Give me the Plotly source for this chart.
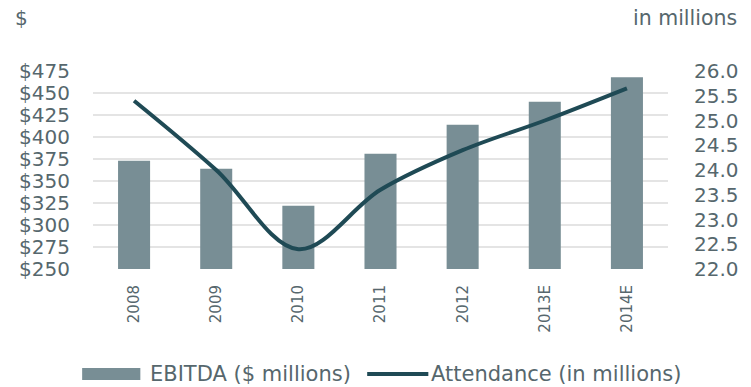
import plotly.graph_objects as go

# Chart data
years = ["2008", "2009", "2010", "2011", "2012", "2013E", "2014E"]
ebitda = [373, 364, 322, 381, 414, 440, 468]          # $ millions
attendance = [25.4, 24.0, 22.4, 23.6, 24.4, 25.0, 25.65]  # millions

ebitda_ticks = [250, 275, 300, 325, 350, 375, 400, 425, 450, 475]
ebitda_labels = ["$" + str(v) for v in ebitda_ticks]
attendance_ticks = [22.0, 22.5, 23.0, 23.5, 24.0, 24.5, 25.0, 25.5, 26.0]
attendance_labels = [f"{v:.1f}" for v in attendance_ticks]

bar_name = "EBITDA ($ millions)"
line_name = "Attendance (in millions)"

# Style
W, H = 751, 387
ML, MR, MT, MB = 93, 75, 71, 118
FONT = "DejaVu Sans"
TEXT = "#56676d"
BAR = "#788e95"
LINE = "#1f4a55"
GRID = "#e4e4e4"

PW = W - ML - MR
PH = H - MT - MB


def px(x):
    return (x - ML) / PW


def py(y):
    return (H - MB - y) / PH


fig = go.Figure()
fig.add_trace(go.Bar(
    x=years, y=ebitda, name=bar_name, marker_color=BAR,
    marker_line_width=0, showlegend=False,
))
fig.add_trace(go.Scatter(
    x=years, y=attendance, name=line_name, yaxis="y2", mode="lines",
    line=dict(color=LINE, width=4, shape="spline", smoothing=1.0),
    showlegend=False,
))

fig.update_layout(
    width=W, height=H, autosize=False,
    margin=dict(l=ML, r=MR, t=MT, b=MB),
    paper_bgcolor="white", plot_bgcolor="white",
    bargap=0.61,
    font=dict(family=FONT, color=TEXT, size=20),
    xaxis=dict(
        type="category", tickangle=-90, showgrid=False, showline=False,
        zeroline=False, ticks="", ticklabelstandoff=12,
        tickfont=dict(size=15, color=TEXT, family=FONT),
    ),
    yaxis=dict(
        range=[ebitda_ticks[0], ebitda_ticks[-1]], tickvals=ebitda_ticks,
        ticktext=ebitda_labels, showgrid=True, gridcolor=GRID, gridwidth=1.5,
        zeroline=False, showline=False, ticks="", ticklabelstandoff=22,
        tickfont=dict(size=20, color=TEXT, family=FONT),
    ),
    yaxis2=dict(
        overlaying="y", side="right",
        range=[attendance_ticks[0], attendance_ticks[-1]],
        tickvals=attendance_ticks, ticktext=attendance_labels, showgrid=False,
        zeroline=False, showline=False, ticks="", ticklabelstandoff=25,
        tickfont=dict(size=20, color=TEXT, family=FONT),
    ),
)

# Axis unit captions
fig.add_annotation(text="$", xref="paper", yref="paper", x=px(12), y=py(18),
                   xanchor="left", yanchor="middle", showarrow=False,
                   font=dict(size=20, color=TEXT, family=FONT))
fig.add_annotation(text="in millions", xref="paper", yref="paper", x=px(748),
                   y=py(18), xanchor="right", yanchor="middle", showarrow=False,
                   font=dict(size=20.5, color=TEXT, family=FONT))

# Legend row
fig.add_shape(type="rect", xref="paper", yref="paper",
              x0=px(82), x1=px(141), y0=py(380), y1=py(368),
              fillcolor=BAR, line_width=0)
fig.add_annotation(text=bar_name, xref="paper", yref="paper", x=px(149),
                   y=py(374), xanchor="left", yanchor="middle", showarrow=False,
                   font=dict(size=21, color=TEXT, family=FONT))
fig.add_shape(type="line", xref="paper", yref="paper",
              x0=px(371), x1=px(433), y0=py(374), y1=py(374),
              line=dict(color=LINE, width=4))
fig.add_annotation(text=line_name, xref="paper", yref="paper", x=px(434),
                   y=py(374), xanchor="left", yanchor="middle", showarrow=False,
                   font=dict(size=21, color=TEXT, family=FONT))

fig.write_html("out.html")
